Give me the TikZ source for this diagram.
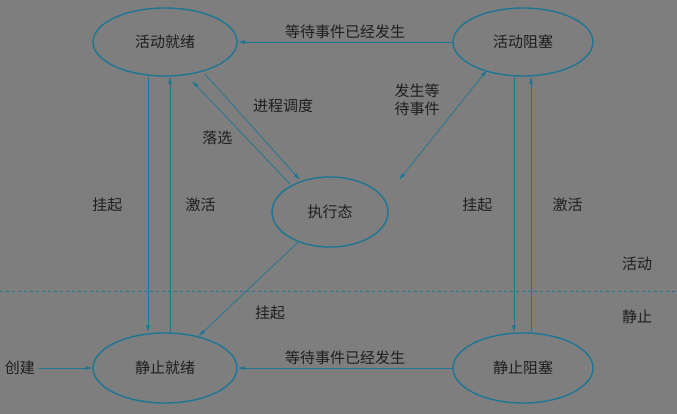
\documentclass[tikz,border=0pt]{standalone}
\usepackage{fontspec}
\newfontfamily\cjk{Noto Sans CJK SC}
\usetikzlibrary{arrows.meta,shapes.geometric}
\definecolor{bgray}{RGB}{126,126,126}
\definecolor{lineteal}{RGB}{28,118,150}
\definecolor{txtdark}{RGB}{30,30,30}
\begin{document}
\begin{tikzpicture}[x=1pt,y=-1pt,
  every node/.style = {font=\cjk\fontsize{15}{18}\selectfont, text=txtdark},
  state/.style = {ellipse, draw=lineteal, line width=1.4pt,
    minimum width=144pt, minimum height=68pt},
  link/.style = {draw=lineteal, line width=0.7pt, -{Latex[length=7pt,width=4pt]}}]
  \fill[bgray] (0,0) rectangle (677,414);
  \useasboundingbox (0,0) rectangle (677,414);
  \node[state] (ar) at (165,42) {活动就绪};
  \node[state, minimum width=140pt] (ab) at (523,42) {活动阻塞};
  \node[state, minimum width=116pt, minimum height=70pt] (ex) at (330,212) {执行态};
  \node[state, minimum height=70pt] (sr) at (165,368) {静止就绪};
  \node[state, minimum width=140pt, minimum height=70pt] (sb) at (523,368) {静止阻塞};
  \node (cj) at (20,368) {创建};
  \draw[dashed, draw=lineteal, line width=0.9pt] (0,291) -- (677,291);
  \node at (637,264) {活动};
  \node at (637,317) {静止};
  % transitions
  \draw[link] (ab) -- node[above] {等待事件已经发生} (ar);
  \draw[link] (sb) -- node[above] {等待事件已经发生} (sr);
  \draw[link] (cj) -- (sr);
  \draw[link] ([xshift=-17pt]ar.south) -- node[left=22pt] {挂起} ([xshift=-17pt]sr.north);
  \draw[link] ([xshift=5pt]sr.north) -- node[right=12pt] {激活} ([xshift=5pt]ar.south);
  \draw[link] ([xshift=-9pt]ab.south) -- node[left=18pt] {挂起} ([xshift=-9pt]sb.north);
  \draw[link] ([xshift=8pt]sb.north) -- node[right=18pt] {激活} ([xshift=8pt]ab.south);
  \draw[link] (205,74) -- node[right=16pt, pos=0.3] {进程调度} (300,180);
  \draw[link] (290,184) -- node[below left, pos=0.55] {落选} (192,81);
  \draw[link, {Latex[length=7pt,width=4pt]}-{Latex[length=7pt,width=4pt]}] (399,180) -- node[above left, pos=0.55, align=left, xshift=-4pt] {发生等\\待事件} (487,70);
  \draw[link] (ex) -- node[right=28pt, pos=0.75] {挂起} (sr);
\end{tikzpicture}
\end{document}
